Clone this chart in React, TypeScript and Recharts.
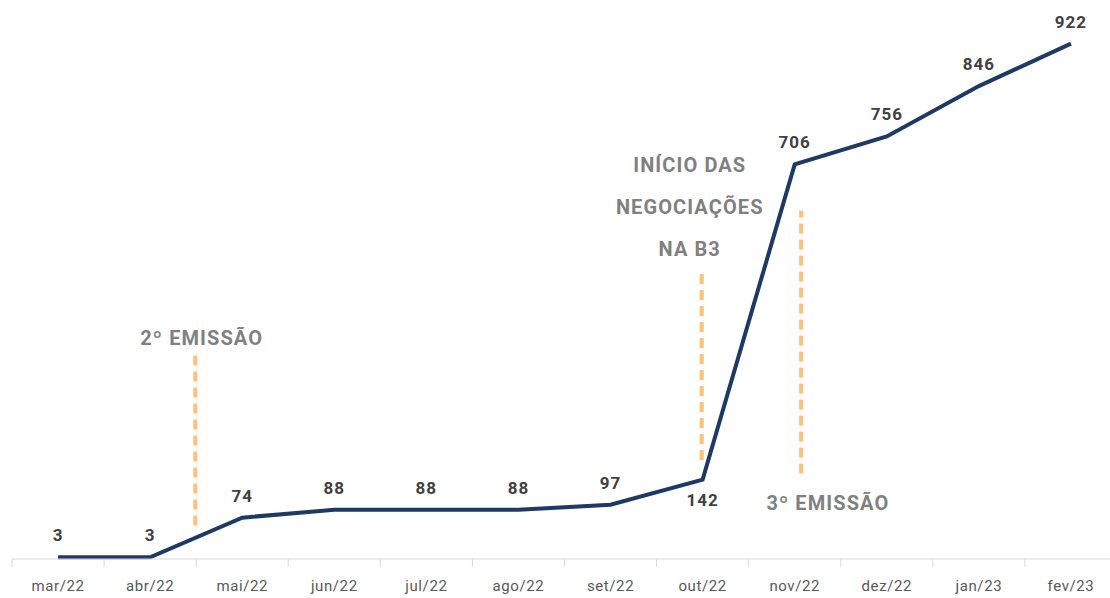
import React from "react";
import { LineChart, Line, XAxis, YAxis, ReferenceLine, ReferenceDot, LabelList } from "recharts";

const categories = ["mar/22", "abr/22", "mai/22", "jun/22", "jul/22", "ago/22", "set/22", "out/22", "nov/22", "dez/22", "jan/23", "fev/23"];
const values = [3, 3, 74, 88, 88, 88, 97, 142, 706, 756, 846, 922];
const tickIdx = [0, 1, 2, 3, 4, 5, 6, 7, 8, 9, 10, 11];

const data = categories.map((c, i) => ({ i, label: c, value: values[i] }));

const NAVY = "#1F3864";
const ORANGE = "#FFC07A";
const GREY = "#808080";
const FONT = "Roboto, 'Noto Sans', sans-serif";
const BAND = 92.1;

const Tick = (props: any) => {
  const { x, payload } = props;
  const lbl = categories[payload.value] ?? "";
  return (
    <g>
      <line x1={x - BAND / 2} x2={x - BAND / 2} y1={559} y2={567} stroke="#d9d9d9" strokeWidth={1} />
      <text x={x} y={591} textAnchor="middle" fill="#595959" fontSize={15} fontFamily={FONT} letterSpacing={0.6}>
        {lbl}
      </text>
    </g>
  );
};

const ValueLabel = (props: any) => {
  const { x, y, value, index } = props;
  const below = categories[index] === "out/22";
  return (
    <text x={x} y={below ? y + 26 : y - 16} textAnchor="middle" fill="#404040" fontSize={17} fontWeight={700} fontFamily={FONT} letterSpacing={1}>
      {value}
    </text>
  );
};

const annText = (t: string) => (p: any) => (
  <text x={p.cx} y={p.cy} dy="0.35em" textAnchor="middle" fill={GREY} fontSize={20} fontWeight={700} fontFamily={FONT} letterSpacing={1.1}>
    {t}
  </text>
);

export default function App() {
  return (
    <div style={{ position: "absolute", left: 0, top: 0, width: 1110, height: 598, background: "#fff" }}>
      <LineChart width={1110} height={598} data={data} margin={{ top: 0, right: -7, bottom: 0, left: 12 }}>
        <XAxis
          dataKey="i"
          type="number"
          domain={[-0.5, 11.5]}
          ticks={tickIdx}
          interval={0}
          tick={<Tick />}
          tickLine={false}
          axisLine={{ stroke: "#d9d9d9" }}
          height={39}
        />
        <YAxis hide domain={[0, 1000]} />
        <ReferenceLine segment={[{ x: 1.49, y: 60 }, { x: 1.49, y: 364 }]} stroke={ORANGE} strokeWidth={4} strokeDasharray="10 6" />
        <ReferenceLine segment={[{ x: 6.99, y: 177 }, { x: 6.99, y: 516 }]} stroke={ORANGE} strokeWidth={4} strokeDasharray="10 6" />
        <ReferenceLine segment={[{ x: 8.07, y: 153 }, { x: 8.07, y: 623 }]} stroke={ORANGE} strokeWidth={4} strokeDasharray="10 6" />
        <ReferenceDot x={1.56} y={395} r={0} shape={annText("2º EMISSÃO")} />
        <ReferenceDot x={6.86} y={704} r={0} shape={annText("INÍCIO DAS")} />
        <ReferenceDot x={6.86} y={629} r={0} shape={annText("NEGOCIAÇÕES")} />
        <ReferenceDot x={6.86} y={555} r={0} shape={annText("NA B3")} />
        <ReferenceDot x={8.36} y={100} r={0} shape={annText("3º EMISSÃO")} />
        <Line
          type="linear"
          dataKey="value"
          stroke={NAVY}
          strokeWidth={4}
          dot={false}
          isAnimationActive={false}
        >
          <LabelList dataKey="value" content={<ValueLabel />} />
        </Line>
      </LineChart>
    </div>
  );
}
